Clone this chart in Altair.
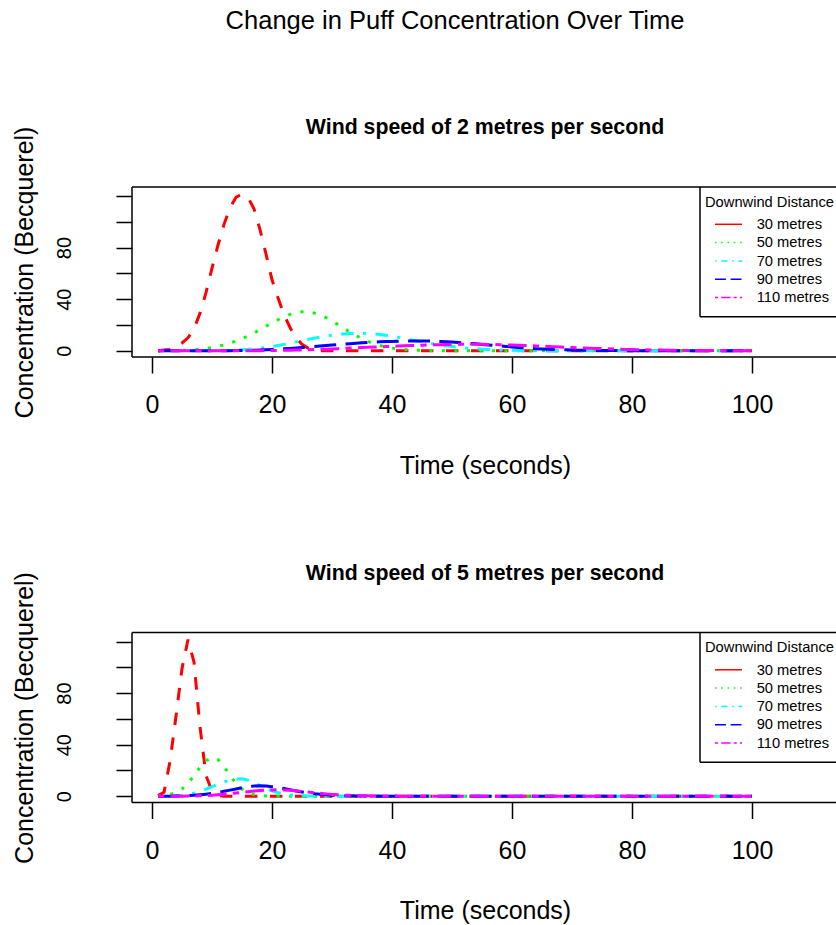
import altair as alt
import pandas as pd

FONT = "Liberation Sans"

TIME = list(range(1, 101))
SERIES = ["30 metres", "50 metres", "70 metres", "90 metres", "110 metres"]
COLORS = ["#FF0000", "#00FF00", "#00FFFF", "#0000FF", "#FF00FF"]
X_TICKS = [0, 20, 40, 60, 80, 100]
Y_TICKS = [0, 20, 40, 60, 80, 100, 120]

# ---- Wind speed 2 m/s ----
W2_30 = [0, 0.5, 1, 3, 6, 10, 17, 29, 45, 64,
         82, 98, 111, 119, 121.5, 119, 110, 94, 75, 55,
         41, 28, 18, 10, 5, 2, 0.5, 0, 0, 0,
         0, 0, 0, 0, 0, 0, 0, 0, 0, 0,
         0, 0, 0, 0, 0, 0, 0, 0, 0, 0,
         0, 0, 0, 0, 0, 0, 0, 0, 0, 0,
         0, 0, 0, 0, 0, 0, 0, 0, 0, 0,
         0, 0, 0, 0, 0, 0, 0, 0, 0, 0,
         0, 0, 0, 0, 0, 0, 0, 0, 0, 0,
         0, 0, 0, 0, 0, 0, 0, 0, 0, 0]
W2_50 = [0, 0, 0.1, 0.2, 0.3, 0.5, 0.8, 1.2, 1.7, 2.5,
         3.4, 4.5, 6, 7.5, 9.4, 11.5, 13.8, 16.3, 19, 21.6,
         24, 26.3, 28.2, 29.5, 30.2, 30.2, 29.3, 27.8, 25.6, 23,
         20.2, 17.3, 14.4, 11.7, 9.3, 7.2, 5.4, 4, 2.9, 2,
         1.4, 0.9, 0.6, 0.4, 0.25, 0.15, 0.1, 0, 0, 0,
         0, 0, 0, 0, 0, 0, 0, 0, 0, 0,
         0, 0, 0, 0, 0, 0, 0, 0, 0, 0,
         0, 0, 0, 0, 0, 0, 0, 0, 0, 0,
         0, 0, 0, 0, 0, 0, 0, 0, 0, 0,
         0, 0, 0, 0, 0, 0, 0, 0, 0, 0]
W2_70 = [0, 0, 0, 0, 0, 0, 0, 0, 0, 0,
         0.1, 0.2, 0.3, 0.5, 0.7, 1.0, 1.4, 1.9, 2.5, 3.2,
         4.0, 4.9, 5.9, 6.9, 7.8, 8.8, 9.7, 10.6, 11.3, 12.0,
         12.5, 13.0, 13.3, 13.5, 13.5, 13.3, 13.0, 12.5, 11.9, 11.2,
         10.4, 9.5, 8.6, 7.7, 6.9, 6.0, 5.2, 4.5, 3.8, 3.2,
         2.7, 2.2, 1.8, 1.5, 1.2, 0.9, 0.7, 0.55, 0.4, 0.3,
         0.2, 0.15, 0.1, 0, 0, 0, 0, 0, 0, 0,
         0, 0, 0, 0, 0, 0, 0, 0, 0, 0,
         0, 0, 0, 0, 0, 0, 0, 0, 0, 0,
         0, 0, 0, 0, 0, 0, 0, 0, 0, 0]
W2_90 = [0, 0, 0, 0, 0, 0, 0, 0, 0, 0,
         0, 0, 0, 0.1, 0.2, 0.3, 0.4, 0.6, 0.8, 1.0,
         1.2, 1.5, 1.8, 2.1, 2.5, 2.8, 3.2, 3.6, 4.0, 4.4,
         4.7, 5.1, 5.4, 5.8, 6.1, 6.4, 6.6, 6.9, 7.1, 7.2,
         7.4, 7.5, 7.5, 7.6, 7.6, 7.5, 7.4, 7.2, 7.0, 6.7,
         6.4, 6.1, 5.7, 5.3, 4.9, 4.5, 4.1, 3.7, 3.3, 2.9,
         2.5, 2.2, 1.9, 1.6, 1.4, 1.2, 1.0, 0.8, 0.65, 0.5,
         0.4, 0.3, 0.25, 0.2, 0.15, 0.1, 0.08, 0.05, 0, 0,
         0, 0, 0, 0, 0, 0, 0, 0, 0, 0,
         0, 0, 0, 0, 0, 0, 0, 0, 0, 0]
W2_110 = [0, 0, 0, 0, 0, 0, 0, 0, 0, 0,
          0, 0, 0, 0, 0, 0, 0, 0.05, 0.1, 0.15,
          0.2, 0.3, 0.4, 0.5, 0.6, 0.75, 0.9, 1.05, 1.2, 1.4,
          1.6, 1.8, 2.0, 2.2, 2.4, 2.6, 2.8, 3.0, 3.2, 3.4,
          3.6, 3.8, 4.0, 4.15, 4.3, 4.45, 4.6, 4.7, 4.8, 4.9,
          4.95, 5.0, 5.0, 5.0, 4.95, 4.9, 4.8, 4.7, 4.55, 4.4,
          4.25, 4.1, 3.9, 3.7, 3.5, 3.3, 3.1, 2.9, 2.7, 2.5,
          2.3, 2.1, 1.9, 1.75, 1.6, 1.45, 1.3, 1.15, 1.0, 0.9,
          0.8, 0.7, 0.6, 0.5, 0.45, 0.4, 0.35, 0.3, 0.25, 0.2,
          0.17, 0.14, 0.12, 0.1, 0.08, 0.06, 0.05, 0.04, 0.03, 0.02]

# ---- Wind speed 5 m/s ----
W5_30 = [0.5, 3, 27, 62, 99, 121.5, 104, 54, 16, 4,
         0.5, 0, 0, 0, 0, 0, 0, 0, 0, 0,
         0, 0, 0, 0, 0, 0, 0, 0, 0, 0,
         0, 0, 0, 0, 0, 0, 0, 0, 0, 0,
         0, 0, 0, 0, 0, 0, 0, 0, 0, 0,
         0, 0, 0, 0, 0, 0, 0, 0, 0, 0,
         0, 0, 0, 0, 0, 0, 0, 0, 0, 0,
         0, 0, 0, 0, 0, 0, 0, 0, 0, 0,
         0, 0, 0, 0, 0, 0, 0, 0, 0, 0,
         0, 0, 0, 0, 0, 0, 0, 0, 0, 0]
W5_50 = [0, 0.3, 1.2, 2.8, 5.5, 10, 16, 22.5, 27.5, 30,
         28.5, 23, 16, 10, 5.5, 2.7, 1.2, 0.5, 0.2, 0.1,
         0, 0, 0, 0, 0, 0, 0, 0, 0, 0,
         0, 0, 0, 0, 0, 0, 0, 0, 0, 0,
         0, 0, 0, 0, 0, 0, 0, 0, 0, 0,
         0, 0, 0, 0, 0, 0, 0, 0, 0, 0,
         0, 0, 0, 0, 0, 0, 0, 0, 0, 0,
         0, 0, 0, 0, 0, 0, 0, 0, 0, 0,
         0, 0, 0, 0, 0, 0, 0, 0, 0, 0,
         0, 0, 0, 0, 0, 0, 0, 0, 0, 0]
W5_70 = [0, 0, 0.1, 0.3, 0.7, 1.4, 2.4, 3.8, 5.5, 7.4,
         9.3, 11.1, 12.5, 13.4, 13.5, 12.5, 10.6, 8.2, 6.0, 4.1,
         2.7, 1.7, 1.0, 0.6, 0.35, 0.2, 0.1, 0, 0, 0,
         0, 0, 0, 0, 0, 0, 0, 0, 0, 0,
         0, 0, 0, 0, 0, 0, 0, 0, 0, 0,
         0, 0, 0, 0, 0, 0, 0, 0, 0, 0,
         0, 0, 0, 0, 0, 0, 0, 0, 0, 0,
         0, 0, 0, 0, 0, 0, 0, 0, 0, 0,
         0, 0, 0, 0, 0, 0, 0, 0, 0, 0,
         0, 0, 0, 0, 0, 0, 0, 0, 0, 0]
W5_90 = [0, 0, 0, 0.1, 0.2, 0.4, 0.7, 1.1, 1.6, 2.2,
         3.0, 3.8, 4.7, 5.6, 6.5, 7.3, 7.9, 8.1, 7.9, 7.4,
         6.7, 5.9, 5.0, 4.1, 3.3, 2.6, 2.0, 1.5, 1.1, 0.8,
         0.55, 0.4, 0.28, 0.2, 0.13, 0.08, 0.05, 0, 0, 0,
         0, 0, 0, 0, 0, 0, 0, 0, 0, 0,
         0, 0, 0, 0, 0, 0, 0, 0, 0, 0,
         0, 0, 0, 0, 0, 0, 0, 0, 0, 0,
         0, 0, 0, 0, 0, 0, 0, 0, 0, 0,
         0, 0, 0, 0, 0, 0, 0, 0, 0, 0,
         0, 0, 0, 0, 0, 0, 0, 0, 0, 0]
W5_110 = [0, 0, 0, 0, 0, 0.1, 0.2, 0.3, 0.5, 0.8,
          1.1, 1.5, 2.0, 2.5, 3.0, 3.5, 4.0, 4.4, 4.7, 4.9,
          5.0, 4.9, 4.6, 4.2, 3.7, 3.2, 2.7, 2.2, 1.8, 1.4,
          1.1, 0.85, 0.65, 0.5, 0.37, 0.27, 0.2, 0.14, 0.1, 0.07,
          0.05, 0, 0, 0, 0, 0, 0, 0, 0, 0,
          0, 0, 0, 0, 0, 0, 0, 0, 0, 0,
          0, 0, 0, 0, 0, 0, 0, 0, 0, 0,
          0, 0, 0, 0, 0, 0, 0, 0, 0, 0,
          0, 0, 0, 0, 0, 0, 0, 0, 0, 0,
          0, 0, 0, 0, 0, 0, 0, 0, 0, 0]

W2 = [W2_30, W2_50, W2_70, W2_90, W2_110]
W5 = [W5_30, W5_50, W5_70, W5_90, W5_110]
for arr in W2 + W5:
    assert len(arr) == 100


def long_df(arrays):
    rows = []
    for name, arr in zip(SERIES, arrays):
        for t, c in zip(TIME, arr):
            rows.append({"time": t, "conc": c, "series": name})
    return pd.DataFrame(rows)


df2 = long_df(W2)
df5 = long_df(W5)

# line types (R lty 2..6 at lwd 2, and lty 1,3..6 at lwd 1 in the legend)
PLOT_DASH = [[12.5, 12.5], [3.1, 9.4], [3.1, 9.4, 12.5, 9.4], [21.9, 9.4], [6.25, 6.25, 18.75, 6.25]]
LEG_DASH = [None, [1.56, 4.7], [1.56, 4.7, 6.25, 4.7], [10.9, 4.7], [3.1, 3.1, 9.4, 3.1]]

W = 704
H = 615.5
D = 445.5  # vertical offset of the second panel
PH = 170   # panel box height
K = 154.7 / 120.0  # px per Becquerel
Y1_TOP = 163.7 / K
Y1 = [Y1_TOP - H / K, Y1_TOP]
Y2_BOT = -(H - (D + 163.7)) / K
Y2 = [Y2_BOT, Y2_BOT + H / K]
XDOM = [-20 / 6.0, (W - 20) / 6.0]


def x_axis(offset):
    return alt.Axis(orient="bottom", offset=offset, values=X_TICKS, domain=False, grid=False,
                    tickSize=16, tickWidth=1.5, tickColor="black",
                    labelFontSize=25, labelFont=FONT, labelColor="black", labelPadding=39.5,
                    labelBaseline="alphabetic", labelAlign="center", labelFlush=False,
                    labelOverlap=False,
                    title="Time (seconds)", titleFontSize=25, titleFont=FONT,
                    titleFontWeight="normal", titleColor="black", titleBaseline="alphabetic",
                    titleAlign="center", titleX=353, titleY=116.3)


def y_axis(title_y):
    return alt.Axis(orient="left", values=Y_TICKS, domain=False, grid=False,
                    tickSize=16, tickWidth=1.5, tickColor="black",
                    labelFontSize=20, labelFont=FONT, labelColor="black", labelAngle=270,
                    labelAlign="center", labelBaseline="alphabetic", labelPadding=46,
                    labelOverlap=False, labelBound=False,
                    labelExpr="datum.value % 40 == 0 && datum.value < 120 ? datum.label : ''",
                    title="Concentration (Becquerel)", titleFontSize=25, titleFont=FONT,
                    titleFontWeight="normal", titleColor="black", titleAngle=270,
                    titleAlign="center", titleBaseline="alphabetic", titleX=-99.5, titleY=title_y)


def panel(df, ydom, xoff, title_y):
    xs = alt.Scale(domain=XDOM, nice=False, zero=False)
    ys = alt.Scale(domain=ydom, nice=False, zero=False)
    layers = []
    for name, color, dash in zip(SERIES, COLORS, PLOT_DASH):
        layers.append(
            alt.Chart(df).transform_filter(alt.datum.series == name)
            .mark_line(color=color, strokeDash=dash, strokeWidth=3, strokeCap="butt")
            .encode(x=alt.X("time:Q", scale=xs, axis=x_axis(xoff)),
                    y=alt.Y("conc:Q", scale=ys, axis=y_axis(title_y)))
        )
    return alt.layer(*layers)


dummy = pd.DataFrame({"d": [0]})


def hline(x1, x2, y, w=1.5, color="black", dash=None):
    kw = dict(color=color, strokeWidth=w)
    if dash:
        kw["strokeDash"] = dash
    return alt.Chart(dummy).mark_rule(**kw).encode(x=alt.value(x1), x2=alt.value(x2), y=alt.value(y))


def vline(x, y1, y2, w=1.5):
    return alt.Chart(dummy).mark_rule(color="black", strokeWidth=w).encode(
        x=alt.value(x), y=alt.value(y1), y2=alt.value(y2))


def text(s, x, y, size, weight="normal", align="left"):
    return alt.Chart(dummy).mark_text(text=s, align=align, baseline="alphabetic", fontSize=size,
                                      font=FONT, fontWeight=weight, color="black").encode(
        x=alt.value(x), y=alt.value(y))


decor = []
decor.append(text("Change in Puff Concentration Over Time", 323, -158, 25.5, align="center"))
for off, ws in [(0, "2"), (D, "5")]:
    # plot box (right side lies outside the picture)
    decor.append(vline(0, off, off + PH))
    decor.append(hline(0, W, off))
    decor.append(hline(0, W, off + PH))
    # panel title
    decor.append(text(f"Wind speed of {ws} metres per second", 353, off - 53, 21.3,
                      weight="bold", align="center"))
    # legend box
    decor.append(vline(568, off, off + 129.7))
    decor.append(hline(568, W, off + 129.7))
    decor.append(text("Downwind Distance", 573, off + 19.7, 14.7))
    for i, (name, color, dash) in enumerate(zip(SERIES, COLORS, LEG_DASH)):
        ly = off + 37.3 + 18.3 * i
        decor.append(hline(583, 610, ly, w=1.5, color=color, dash=dash))
        decor.append(text(name, 624.7, ly + 4.7, 14.7))

p1 = panel(df2, Y1, -(H - PH), 85)
p2 = panel(df5, Y2, 0, D + 85)

chart = (
    alt.layer(p1, p2, *decor)
    .resolve_scale(x="independent", y="independent")
    .properties(width=W, height=H, autosize=alt.AutoSizeParams(type="none"),
                padding={"left": 132, "top": 187, "right": 0, "bottom": 925 - 187 - H},
                background="white")
    .configure_view(stroke=None)
)

chart.save("out.html", embed_options={"renderer": "svg", "actions": False})
